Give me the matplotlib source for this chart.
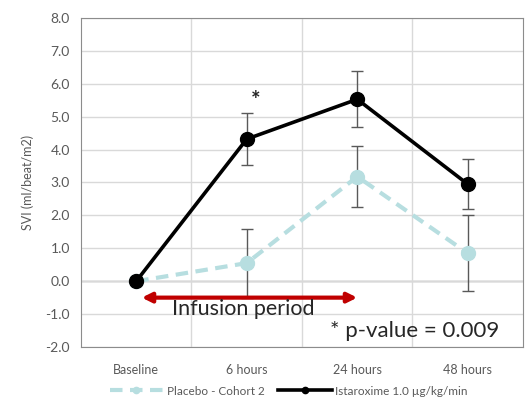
import numpy as np
import matplotlib.pyplot as plt

plt.rcParams['font.family'] = ['Lato', 'DejaVu Sans']

categories = ['Baseline', '6 hours', '24 hours', '48 hours']
placebo = [0.0, 0.55, 3.18, 0.85]
placebo_err = [0.0, 1.05, 0.92, 1.15]
istaroxime = [0.0, 4.32, 5.53, 2.95]
istaroxime_err = [0.0, 0.78, 0.85, 0.75]

x = np.arange(len(categories))

fig = plt.figure(figsize=(5.28, 4.03), dpi=100)
ax = fig.add_axes([0.1534, 0.139, 0.8371, 0.8163])

# placebo
ax.errorbar(x[1:], placebo[1:], yerr=placebo_err[1:], fmt='none',
            ecolor='#595959', elinewidth=1, capsize=4, capthick=1, zorder=3)
ax.plot(x, placebo, color='#b7dee0', lw=3, ls=(0, (3, 1.8)), marker='o',
        markersize=10, label='Placebo - Cohort 2', zorder=4)

# istaroxime
ax.errorbar(x[1:], istaroxime[1:], yerr=istaroxime_err[1:], fmt='none',
            ecolor='#595959', elinewidth=1, capsize=4, capthick=1, zorder=3)
ax.plot(x, istaroxime, color='black', lw=2.6, marker='o',
        markersize=10, label='Istaroxime 1.0 µg/kg/min', zorder=5)

ax.set_xlim(-0.5, 3.5)
ax.set_ylim(-2, 8)
ax.set_yticks(np.arange(-2, 8.1, 1))
ax.set_yticklabels(['%.1f' % v for v in np.arange(-2, 8.1, 1)])
ax.set_xticks(x)
ax.set_xticklabels(categories)
ax.set_xticks([0.5, 1.5, 2.5], minor=True)
ax.tick_params(axis='y', which='both', length=0, labelsize=10, colors='#595959', pad=8)
ax.tick_params(axis='x', which='both', length=0, labelsize=9, colors='#595959', pad=12)
ax.grid(True, axis='y', color='#d9d9d9', lw=1)
ax.grid(True, axis='x', which='minor', color='#d9d9d9', lw=1)
ax.axhline(0, color='#8c8c8c', lw=1, zorder=1)
for s in ax.spines.values():
    s.set_color('#8c8c8c')
ax.set_ylabel('SVI (ml/beat/m2)', fontsize=9, color='#595959', labelpad=8)

# infusion arrow
ax.annotate('', xy=(0.05, -0.5), xytext=(2.0, -0.5),
            arrowprops=dict(arrowstyle='<|-|>', color='#c00000', lw=3,
                            mutation_scale=14, shrinkA=0, shrinkB=0), zorder=6)
ax.text(0.32, -0.85, 'Infusion period', fontsize=15.5, color='#262626',
        va='center', ha='left', zorder=7)
ax.text(1.75, -1.5, '* p-value = 0.009', fontsize=16, color='#262626',
        va='center', ha='left')
ax.text(1.08, 5.5, '*', fontsize=16, fontweight='bold', color='#262626',
        ha='center', va='center')

ax.legend(loc='upper center', bbox_to_anchor=(0.47, -0.085), ncol=2,
          frameon=False, fontsize=8.5, labelcolor='#595959', markerscale=0.45,
          handlelength=4.5, columnspacing=1.2, handletextpad=0.3)

plt.savefig('out.png', dpi=100)
